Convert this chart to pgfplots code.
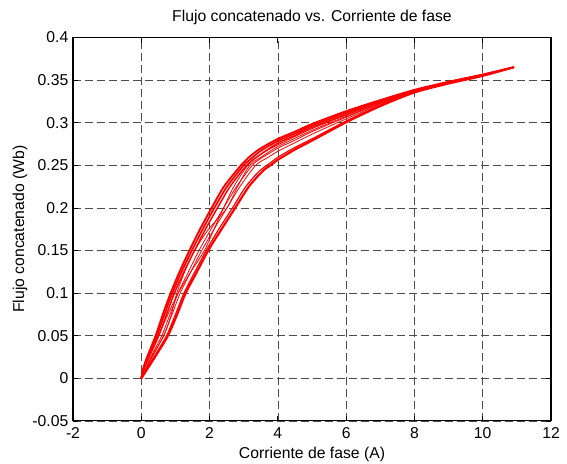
\documentclass[border=0pt]{standalone}
\usepackage{fontspec}
\setmainfont{Liberation Sans}
\usepackage{pgfplots}
\pgfplotsset{compat=1.18}

\newcommand{\plotfont}{\fontsize{11.8pt}{14pt}\selectfont}

\begin{document}
\begin{tikzpicture}
\begin{axis}[
  scale only axis,
  width=358.5pt, height=287.6pt,
  xmin=-2, xmax=12, ymin=-0.05, ymax=0.4,
  xtick={-2,0,2,4,6,8,10,12},
  ytick={-0.05,0,0.05,0.1,0.15,0.2,0.25,0.3,0.35,0.4},
  tick align=inside,
  major tick length=4pt,
  every tick/.style={black, line width=0.6pt},
  axis line style={line width=0.8pt},
  grid=major,
  major grid style={dash pattern=on 6pt off 3pt, black!70, line width=0.5pt},
  /pgf/number format/assume math mode=true,
  tick label style={font=\plotfont},
  label style={font=\plotfont},
  title style={font=\plotfont},
  yticklabel style={/pgf/number format/fixed, /pgf/number format/precision=2},
  xticklabel style={yshift=-1.5pt},
  scaled y ticks=false,
  xlabel style={yshift=1pt},
  ylabel style={yshift=-3pt},
  title={Flujo concatenado vs. Corriente de fase},
  xlabel={Corriente de fase (A)},
  ylabel={Flujo concatenado (Wb)},
  loop/.style={red, line width=#1, smooth, tension=0.45, line join=round, line cap=round},
]
% upper (magnetising) branch
\addplot[loop=1.4pt] coordinates {
 (0,0) (0.06,0.012) (0.17,0.025) (0.42,0.05) (0.63,0.075) (0.86,0.1) (1.12,0.125) (1.41,0.15)
 (1.72,0.175) (2.06,0.2) (2.42,0.225) (2.92,0.25) (3.2,0.261) (3.5,0.27) (4,0.281)
 (4.5,0.2895) (5,0.2985) (6,0.3135) (7,0.3265) (8,0.3385) (9,0.348) (10,0.3565) (10.9,0.365)};
\addplot[loop=1.3pt] coordinates {
 (0,0) (0.07,0.012) (0.2,0.025) (0.46,0.05) (0.68,0.075) (0.91,0.1) (1.18,0.125) (1.48,0.15)
 (1.80,0.175) (2.14,0.2) (2.51,0.225) (3.0,0.25) (3.2,0.257) (3.5,0.267) (4,0.2786)
 (4.5,0.2872) (5,0.2965) (6,0.3115) (7,0.3255) (8,0.338) (9,0.3477) (10,0.3563) (10.9,0.365)};
\addplot[loop=1.1pt] coordinates {
 (0,0) (0.09,0.012) (0.23,0.025) (0.51,0.05) (0.74,0.075) (0.97,0.1) (1.25,0.125) (1.56,0.15)
 (1.88,0.175) (2.23,0.2) (2.60,0.225) (3.09,0.25) (3.5,0.263) (4,0.276)
 (4.5,0.285) (5,0.2945) (6,0.3095) (7,0.3245) (8,0.3375) (9,0.3474) (10,0.356) (10.9,0.365)};
% intermediate loops
\addplot[loop=0.6pt] coordinates {
 (0,0) (0.28,0.025) (0.6,0.05) (0.84,0.075) (1.08,0.1) (1.38,0.125) (1.69,0.15)
 (2.04,0.175) (2.41,0.2) (2.79,0.225) (3.25,0.25) (3.5,0.258) (4,0.27)
 (4.5,0.2795) (5,0.2895) (6,0.3065) (7,0.3225) (8,0.3365) (9,0.347) (10,0.3558) (10.9,0.365)};
\addplot[loop=0.6pt] coordinates {
 (0,0) (0.32,0.025) (0.65,0.05) (0.90,0.075) (1.14,0.1) (1.45,0.125) (1.77,0.15)
 (2.13,0.175) (2.51,0.2) (2.89,0.225) (3.35,0.25) (3.7,0.259) (4,0.2665)
 (4.5,0.2765) (5,0.2865) (6,0.3045) (7,0.3215) (8,0.336) (9,0.3466) (10,0.3556) (10.9,0.365)};
\addplot[loop=0.6pt] coordinates {
 (0,0) (0.18,0.025) (0.5,0.05) (0.78,0.075) (1.08,0.1) (1.45,0.125) (1.85,0.15)
 (2.13,0.175) (2.41,0.2) (2.71,0.225) (3.12,0.25) (3.5,0.263) (4,0.274)
 (5,0.293) (6,0.309) (7,0.324) (8,0.3375) (9,0.3474) (10,0.356) (10.9,0.365)};
\addplot[loop=0.6pt] coordinates {
 (0,0) (0.30,0.025) (0.66,0.05) (0.88,0.075) (1.04,0.1) (1.27,0.125) (1.56,0.15)
 (1.97,0.175) (2.51,0.2) (2.82,0.225) (3.18,0.25) (3.6,0.262) (4,0.272)
 (5,0.291) (6,0.3075) (7,0.323) (8,0.337) (9,0.347) (10,0.3558) (10.9,0.365)};
% lower (demagnetising) branch
\addplot[loop=0.9pt] coordinates {
 (0,0) (0.37,0.025) (0.74,0.05) (1.0,0.075) (1.25,0.1) (1.57,0.125) (1.90,0.15)
 (2.27,0.175) (2.67,0.2) (3.06,0.225) (3.45,0.243) (3.75,0.252) (4,0.2595)
 (4.5,0.271) (5,0.281) (6,0.302) (7,0.3205) (8,0.3358) (9,0.3462) (10,0.3552) (10.9,0.365)};
\addplot[loop=1.6pt] coordinates {
 (0,0) (0.40,0.025) (0.78,0.05) (1.05,0.075) (1.30,0.1) (1.63,0.125) (1.96,0.15)
 (2.35,0.175) (2.75,0.2) (3.15,0.225) (3.55,0.243) (3.8,0.2505) (4,0.2565)
 (4.5,0.2685) (5,0.279) (6,0.3005) (7,0.3195) (8,0.3355) (9,0.346) (10,0.355) (10.9,0.365)};
\end{axis}
\pgfresetboundingbox
\path[use as bounding box]
  ([xshift=-54.75pt,yshift=-32.25pt]current axis.south west)
  rectangle ([xshift=12pt,yshift=28.125pt]current axis.north east);
\end{tikzpicture}
\end{document}
